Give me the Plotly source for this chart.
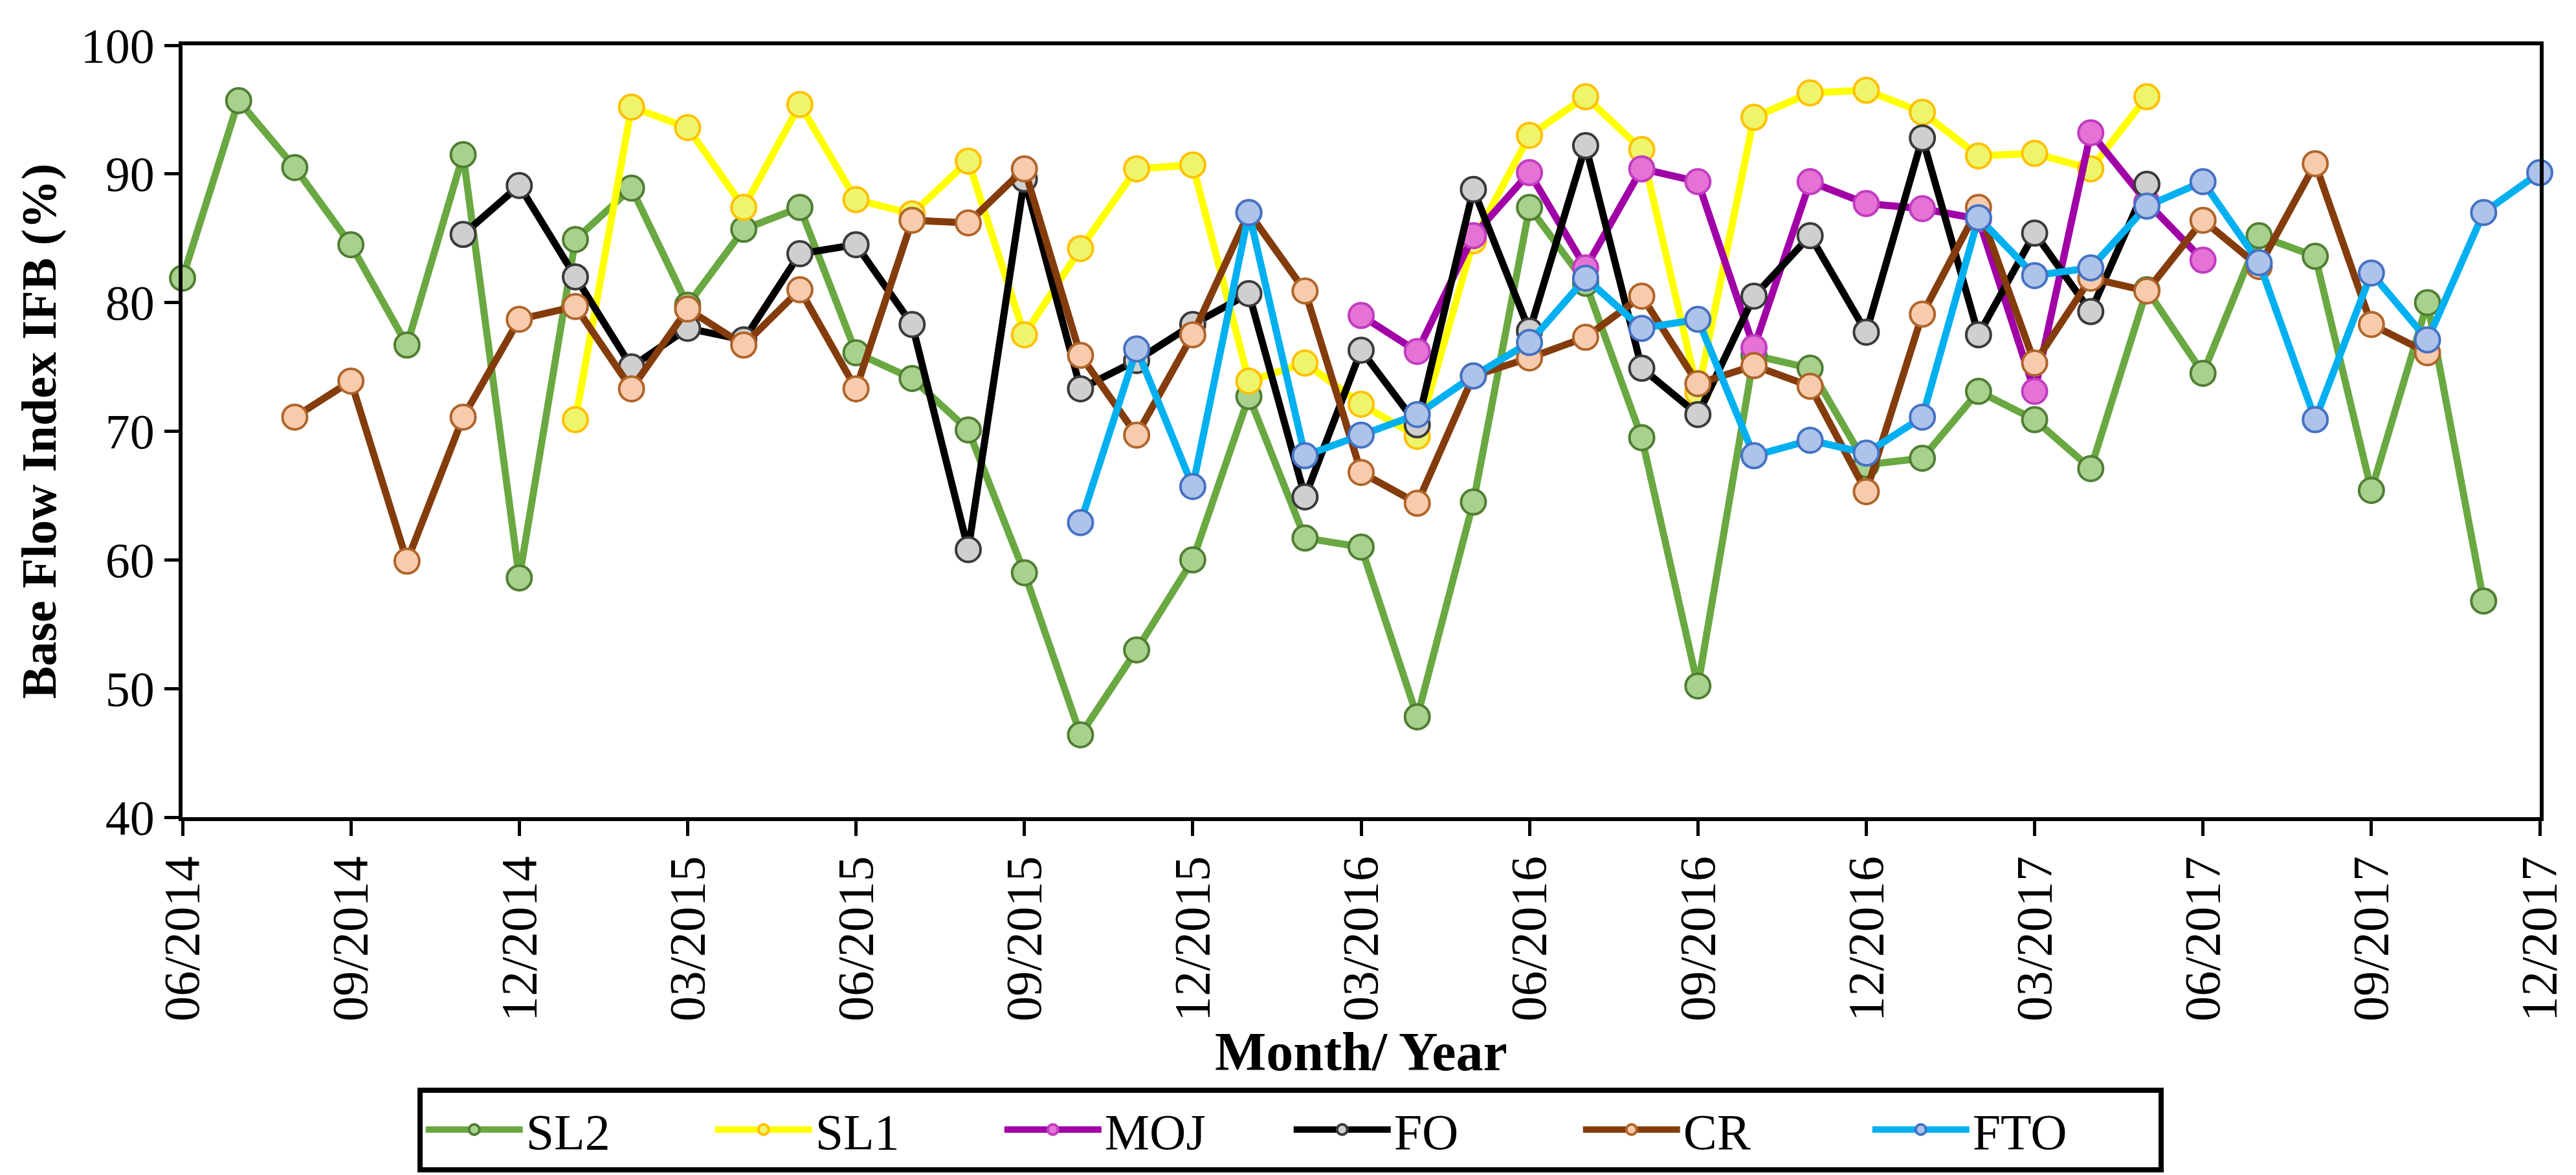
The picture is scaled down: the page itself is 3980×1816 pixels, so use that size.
import plotly.graph_objects as go

months = ["06/2014", "07/2014", "08/2014", "09/2014", "10/2014", "11/2014", "12/2014",
          "01/2015", "02/2015", "03/2015", "04/2015", "05/2015", "06/2015", "07/2015",
          "08/2015", "09/2015", "10/2015", "11/2015", "12/2015", "01/2016", "02/2016",
          "03/2016", "04/2016", "05/2016", "06/2016", "07/2016", "08/2016", "09/2016",
          "10/2016", "11/2016", "12/2016", "01/2017", "02/2017", "03/2017", "04/2017",
          "05/2017", "06/2017", "07/2017", "08/2017", "09/2017", "10/2017", "11/2017",
          "12/2017"]
tick_labels = months[::3]

N = None
SL2 = [81.9, 95.7, 90.5, 84.5, 76.7, 91.5, 58.6, 84.9, 88.9, 79.8, 85.7, 87.4, 76.1, 74.1,
       70.1, 59.0, 46.4, 53.0, 60.0, 72.7, 61.7, 61.0, 47.8, 64.5, 87.4, 81.5, 69.5, 50.2,
       75.9, 74.9, 67.4, 67.9, 73.1, 70.9, 67.1, 81.0, 74.5, 85.2, 83.6, 65.4, 80.0, 56.8, N]
SL1 = [N, N, N, N, N, N, N, 70.9, 95.2, 93.6, 87.4, 95.4, 88.0, 86.9, 91.0, 77.5, 84.2,
       90.4, 90.7, 73.9, 75.3, 72.1, 69.6, 84.8, 93.0, 96.0, 91.9, 73.0, 94.4, 96.3, 96.5,
       94.8, 91.4, 91.6, 90.4, 96.0, N, N, N, N, N, N, N]
MOJ = [N] * 21 + [79.0, 76.2, 85.2, 90.1, 82.7, 90.4, 89.4, 76.5, 89.4, 87.7, 87.3, 86.5,
                  73.1, 93.2, 87.8, 83.3] + [N] * 6
FO = [N] * 5 + [85.3, 89.1, 82.0, 75.0, 78.0, 77.1, 83.8, 84.5, 78.3, 60.8, 89.6, 73.3,
                75.5, 78.3, 80.7, 64.9, 76.3, 70.5, 88.8, 77.8, 92.2, 74.9, 71.3, 80.5,
                85.2, 77.7, 92.8, 77.5, 85.4, 79.3, 89.2] + [N] * 7
CR = [N] * 2 + [71.1, 73.9, 59.9, 71.1, 78.7, 79.7, 73.3, 79.5, 76.7, 81.0, 73.3, 86.4,
                86.2, 90.4, 75.9, 69.7, 77.5, 87.0, 80.9, 66.8, 64.4, 74.3, 75.7, 77.3,
                80.5, 73.7, 75.1, 73.5, 65.3, 79.1, 87.4, 75.3, 81.9, 80.9, 86.4, 82.8,
                90.8, 78.3, 76.1] + [N] * 2
FTO = [N] * 16 + [62.9, 76.4, 65.7, 87.0, 68.1, 69.7, 71.3, 74.3, 76.9, 81.9, 78.0, 78.7,
                  68.1, 69.3, 68.3, 71.1, 86.6, 82.1, 82.7, 87.5, 89.4, 83.1, 70.9, 82.3,
                  77.1, 87.0, 90.1]

series = [
    ("SL2", SL2, "#6aa842", "#a9d18e", "#507e32"),
    ("SL1", SL1, "#ffff00", "#eef56a", "#ffc000"),
    ("MOJ", MOJ, "#a000a6", "#e672d6", "#c03cc0"),
    ("FO", FO, "#000000", "#cfcfcf", "#3a3a3a"),
    ("CR", CR, "#843c0c", "#f8cbad", "#b0652a"),
    ("FTO", FTO, "#00b0f0", "#aec3ea", "#4472c4"),
]

FONT = "Liberation Serif"
fig = go.Figure()
for name, vals, lc, fc, oc in series:
    fig.add_trace(go.Scatter(
        x=months, y=vals, name=name, mode="lines+markers",
        line=dict(color=lc, width=11),
        marker=dict(symbol="circle", size=38, color=fc, line=dict(color=oc, width=4)),
        cliponaxis=False, connectgaps=False,
    ))

fig.update_layout(
    width=3980, height=1816,
    margin=dict(l=274, r=64, t=62, b=556),
    paper_bgcolor="white", plot_bgcolor="white",
    font=dict(family=FONT, size=77, color="black"),
    showlegend=True,
    legend=dict(
        orientation="h", x=0.47, xanchor="center", y=-0.35, yanchor="top",
        bordercolor="black", borderwidth=8, bgcolor="white",
        font=dict(family=FONT, size=78, color="black"),
        entrywidth=282, entrywidthmode="pixels",
        itemwidth=150,
        itemsizing="trace",
    ),
    xaxis=dict(
        type="category", categoryorder="array", categoryarray=months,
        range=[0, 42], tickmode="array", tickvals=tick_labels, ticktext=tick_labels,
        tickangle=-90, ticks="outside", ticklen=23, tickwidth=5, tickcolor="black",
        showline=True, linewidth=6, linecolor="black", mirror=True,
        showgrid=False, zeroline=False,
        tickfont=dict(family=FONT, size=78),
        title=dict(text="<b>Month/ Year</b>", font=dict(family=FONT, size=84), standoff=8),
    ),
    yaxis=dict(
        range=[40, 100], dtick=10, tick0=40,
        ticks="outside", ticklen=22, tickwidth=5, tickcolor="black",
        showline=True, linewidth=6, linecolor="black", mirror=True,
        showgrid=False, zeroline=False,
        tickfont=dict(family=FONT, size=76),
        title=dict(text="<b>Base Flow Index IFB (%)</b>", font=dict(family=FONT, size=76), standoff=15),
    ),
)

fig.write_html("out.html")
